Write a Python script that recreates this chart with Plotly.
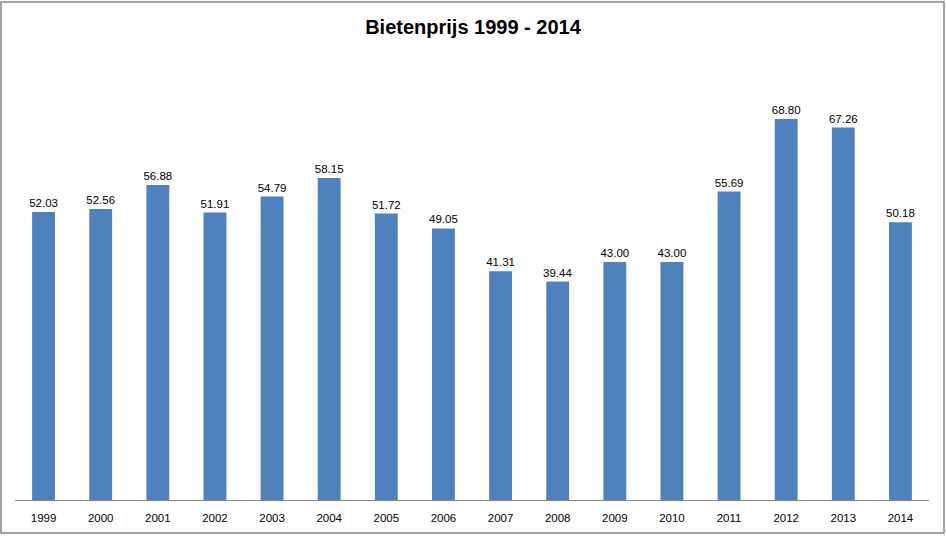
import plotly.graph_objects as go

years = ["1999", "2000", "2001", "2002", "2003", "2004", "2005", "2006",
         "2007", "2008", "2009", "2010", "2011", "2012", "2013", "2014"]
prices = [52.03, 52.56, 56.88, 51.91, 54.79, 58.15, 51.72, 49.05,
          41.31, 39.44, 43.00, 43.00, 55.69, 68.80, 67.26, 50.18]

W, H = 946, 537
L, R, T, B = 15, 17, 57, 37
pw, ph = W - L - R, H - T - B

fig = go.Figure(go.Bar(
    x=years, y=prices,
    marker=dict(color="#4F81BD", line=dict(width=0)),
    texttemplate="%{y:.2f}", textposition="outside",
    constraintext="none",
    textfont=dict(family="Liberation Sans, Arial, sans-serif", size=11.5, color="#000000"),
    cliponaxis=False,
))

fig.update_layout(
    width=W, height=H,
    margin=dict(l=L, r=R, t=T, b=B),
    paper_bgcolor="white", plot_bgcolor="white",
    bargap=0.6,
    showlegend=False,
    title=dict(text="<b>Bietenprijs 1999 - 2014</b>", x=0.5, xanchor="center",
               y=1 - 27 / H, yanchor="middle",
               font=dict(family="Liberation Sans, Arial, sans-serif", size=20, color="#000000")),
    xaxis=dict(showline=True, linecolor="#868686", linewidth=1, ticks="",
               ticklabelstandoff=7,
               tickfont=dict(family="Liberation Sans, Arial, sans-serif", size=11.5, color="#000000"),
               showgrid=False),
    yaxis=dict(range=[0, 80], visible=False, showgrid=False, zeroline=False),
    font=dict(family="Liberation Sans, Arial, sans-serif"),
)

fig.add_shape(type="rect", xref="paper", yref="paper",
              x0=(1 - L) / pw, x1=(944 - L) / pw,
              y0=(H - B - 533) / ph, y1=(H - B - 2) / ph,
              line=dict(color="#868686", width=1.5), fillcolor="rgba(0,0,0,0)", layer="below")

fig.write_html("out.html",
               config={"displayModeBar": False},
               post_script="document.body.style.margin='0';document.body.style.padding='0';document.body.style.overflow='hidden';")
